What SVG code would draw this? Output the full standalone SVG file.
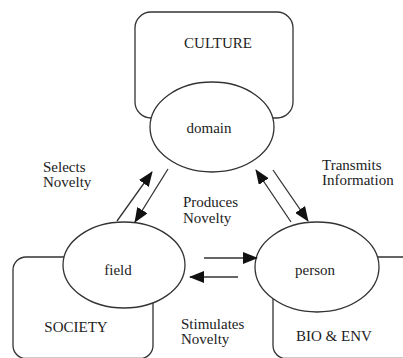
<svg xmlns="http://www.w3.org/2000/svg" width="403" height="358" viewBox="0 0 403 358">
<style>
.box{fill:none;stroke:#333;stroke-width:1.3}
.ell{fill:#fff;stroke:#333;stroke-width:1.3}
.con{stroke:#333;stroke-width:1.3;fill:none;marker-end:url(#ah)}
text{font-family:"Liberation Serif","Times New Roman",serif;font-size:15px;fill:#222}
.c{text-anchor:middle}
</style>
<defs>
<marker id="ah" markerUnits="userSpaceOnUse" markerWidth="15" markerHeight="12" viewBox="0 0 15 12" refX="14" refY="6" orient="auto">
<path d="M0,0 L15,6 L0,12 z" fill="#111"/>
</marker>
</defs>
<rect width="403" height="358" fill="#fff"/>
<g id="culture">
<rect class="box" x="135" y="12" width="158" height="106" rx="16"/>
<text class="c" x="218" y="48">CULTURE</text>
</g>
<g id="society">
<rect class="box" x="13" y="257" width="140" height="101.5" rx="13"/>
<text class="c" x="76" y="332">SOCIETY</text>
</g>
<g id="bioenv">
<rect class="box" x="273" y="257" width="150" height="101.5" rx="13"/>
<text x="296" y="341">BIO &amp; ENV</text>
</g>
<g id="domain">
<ellipse class="ell" cx="212" cy="127" rx="62" ry="45"/>
<text class="c" x="209" y="133">domain</text>
</g>
<g id="field">
<ellipse class="ell" cx="124" cy="265" rx="61" ry="43"/>
<text class="c" x="118" y="275">field</text>
</g>
<g id="person">
<ellipse class="ell" cx="317" cy="267" rx="62" ry="45"/>
<text class="c" x="315" y="275">person</text>
</g>
<g id="connectors">
<line class="con" x1="117" y1="221" x2="152" y2="172"/>
<line class="con" x1="168" y1="169" x2="135" y2="222"/>
<line class="con" x1="273" y1="170" x2="308" y2="221"/>
<line class="con" x1="291" y1="222" x2="256" y2="170"/>
<line class="con" x1="204" y1="258" x2="257" y2="258"/>
<line class="con" x1="238" y1="277" x2="190" y2="277"/>
</g>
<g id="labels">
<text x="43" y="172">Selects</text>
<text x="43" y="187">Novelty</text>
<text x="322" y="170">Transmits</text>
<text x="322" y="185">Information</text>
<text x="183" y="207">Produces</text>
<text x="183" y="223">Novelty</text>
<text x="181" y="329">Stimulates</text>
<text x="181" y="344">Novelty</text>
</g>
</svg>
